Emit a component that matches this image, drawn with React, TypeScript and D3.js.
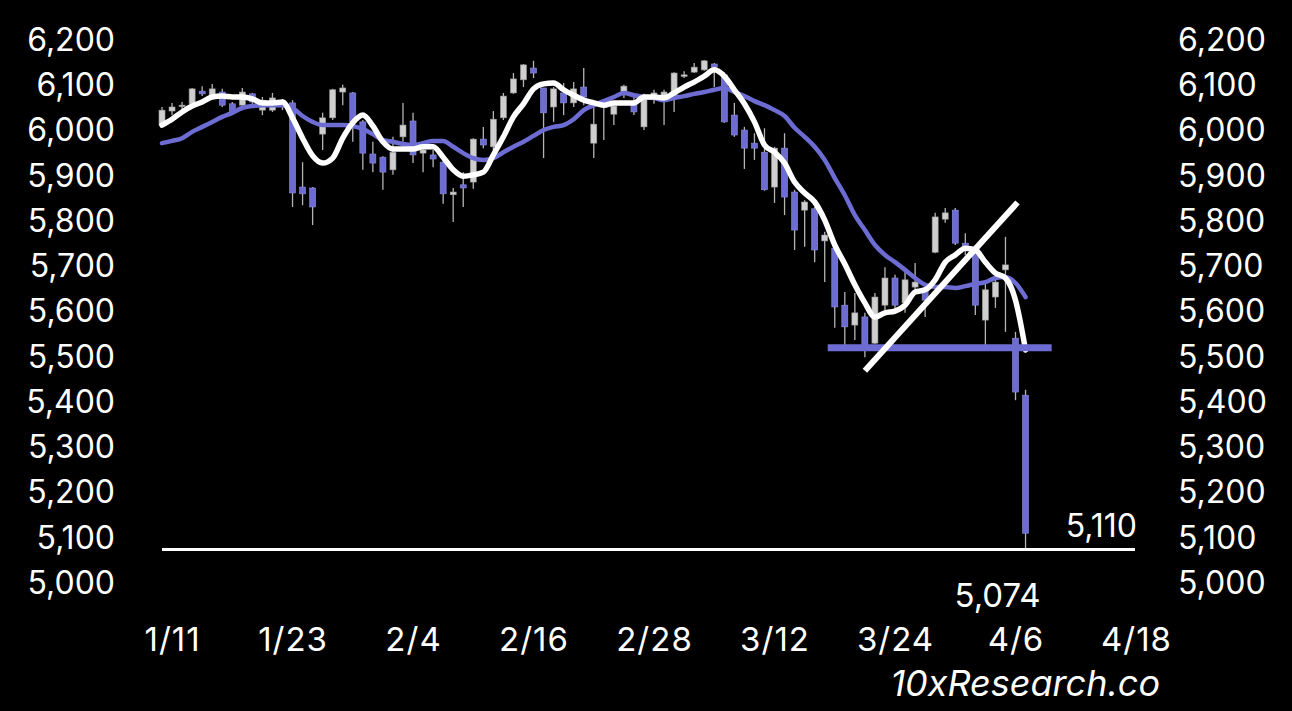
import React, { useEffect, useRef } from 'react';
import * as d3 from 'd3';

// x-axis labels, one every 12 days starting at day 1
const tickLabels = ["1/11", "1/23", "2/4", "2/16", "2/28", "3/12", "3/24", "4/6", "4/18"];
const yTicks = [5000, 5100, 5200, 5300, 5400, 5500, 5600, 5700, 5800, 5900, 6000, 6100, 6200];

// daily candles (day 0 = first candle)
const opens = [
  6012, 6043, 6054, 6059, 6087, 6074, 6085, 6059, 6056, 6081, 6045, 6045, 6065, 6061, 5875, 5873, 5992, 6028, 6085, 6083,
  6019, 5948, 5941, 5913, 5986, 6021, 5950, 5946, 5930, 5858, 5880, 5886, 5981, 5964, 6028, 6083, 6112, 6138, 6094, 6052,
  6083, 6061, 6096, 5972, 6052, 6036, 6085, 6056, 6008, 6072, 6074, 6074, 6121, 6129, 6134, 6147, 6123, 6034, 6001, 5972,
  5952, 5875, 5961, 5864, 5824, 5827, 5756, 5740, 5614, 5570, 5588, 5530, 5614, 5674, 5619, 5654, 5652, 5731, 5804, 5824,
  5751, 5731, 5581, 5632, 5692, 5541, 5415,
];
const highs = [
  6052, 6061, 6063, 6094, 6098, 6103, 6092, 6063, 6094, 6083, 6074, 6083, 6070, 6067, 5930, 5875, 6039, 6092, 6101, 6085,
  6023, 5975, 5943, 5986, 6061, 6039, 5964, 5957, 5935, 5873, 5908, 5983, 6008, 6043, 6083, 6127, 6147, 6154, 6094, 6096,
  6105, 6107, 6138, 6056, 6063, 6059, 6101, 6074, 6081, 6090, 6090, 6129, 6131, 6149, 6156, 6149, 6129, 6061, 6008, 5994,
  6005, 5964, 5994, 5869, 5846, 5831, 5776, 5743, 5643, 5641, 5597, 5641, 5698, 5681, 5692, 5707, 5654, 5818, 5829, 5829,
  5773, 5747, 5665, 5674, 5765, 5555, 5427,
];
const lows = [
  6008, 6034, 6045, 6056, 6076, 6072, 6052, 6034, 6045, 6059, 6034, 6041, 6045, 5831, 5835, 5791, 5957, 6023, 6056, 5975,
  5913, 5908, 5869, 5902, 5975, 5928, 5908, 5919, 5838, 5798, 5831, 5871, 5961, 5957, 6023, 6081, 6096, 6116, 5939, 6019,
  6034, 6052, 6056, 5939, 5979, 6012, 6072, 6034, 6001, 6059, 6012, 6041, 6116, 6127, 6132, 6096, 6017, 5986, 5915, 5935,
  5867, 5840, 5813, 5736, 5743, 5709, 5665, 5564, 5524, 5537, 5499, 5528, 5603, 5597, 5597, 5648, 5588, 5729, 5796, 5747,
  5725, 5592, 5526, 5608, 5555, 5404, 5074,
];
const closes = [
  6045, 6052, 6056, 6092, 6081, 6092, 6056, 6039, 6085, 6063, 6067, 6072, 6054, 5862, 5860, 5831, 6028, 6090, 6094, 6019,
  5950, 5928, 5908, 5952, 6012, 5946, 5957, 5937, 5860, 5864, 5873, 5981, 5968, 6025, 6076, 6114, 6145, 6127, 6039, 6092,
  6061, 6092, 6074, 6014, 6061, 6054, 6098, 6041, 6078, 6083, 6085, 6127, 6123, 6140, 6154, 6140, 6019, 5990, 5961, 5961,
  5869, 5961, 5853, 5780, 5842, 5736, 5769, 5610, 5566, 5597, 5517, 5632, 5674, 5614, 5670, 5665, 5625, 5809, 5818, 5751,
  5740, 5614, 5648, 5665, 5703, 5422, 5110,
];

// moving averages
const maFast = [
  6012, 6025, 6041, 6054, 6063, 6074, 6076, 6074, 6074, 6070, 6061, 6061, 6063, 6028, 5983, 5944, 5928, 5939, 5983, 6017,
  6034, 6010, 5975, 5959, 5959, 5959, 5964, 5964, 5941, 5913, 5899, 5902, 5908, 5946, 5986, 6030, 6059, 6092, 6103, 6105,
  6090, 6078, 6067, 6061, 6056, 6061, 6061, 6061, 6074, 6074, 6072, 6083, 6096, 6107, 6120, 6134, 6120, 6090, 6059, 6019,
  5968, 5952, 5928, 5886, 5862, 5842, 5802, 5747, 5705, 5659, 5619, 5588, 5597, 5601, 5614, 5643, 5648, 5670, 5709, 5725,
  5740, 5736, 5709, 5685, 5674, 5625, 5515,
];
const maSlow = [
  5972, 5977, 5983, 5997, 6008, 6019, 6030, 6039, 6050, 6054, 6056, 6056, 6056, 6050, 6032, 6019, 6012, 6012, 6012, 6010,
  6003, 5992, 5979, 5975, 5970, 5968, 5972, 5977, 5977, 5964, 5950, 5939, 5935, 5939, 5952, 5964, 5975, 5988, 6001, 6008,
  6012, 6025, 6045, 6056, 6065, 6074, 6083, 6078, 6074, 6072, 6067, 6072, 6076, 6081, 6085, 6090, 6094, 6085, 6076, 6065,
  6056, 6045, 6032, 6006, 5986, 5964, 5935, 5895, 5857, 5813, 5780, 5747, 5725, 5709, 5692, 5674, 5659, 5654, 5654, 5652,
  5656, 5661, 5665, 5674, 5676, 5663, 5632,
];

// annotations
const lowLevel = 5074;
const lowLineDays = [0, 96.9];
const lastCloseLabel = 5110;
const supportLevel = 5520;
const supportDays = [66.3, 88.6];
const trendDays = [70, 85.2];
const trendValues = [5469, 5841];

const W = 1292;
const H = 711;
const FONT = "Inter, 'DejaVu Sans', sans-serif";
const PURPLE = "#6c6cd2";

const App: React.FC = () => {
  const svgRef = useRef<SVGSVGElement>(null);

  useEffect(() => {
    if (!svgRef.current) return;
    const svg = d3.select(svgRef.current);
    svg.selectAll("*").remove();

    svg.append("rect").attr("width", W).attr("height", H).attr("fill", "#000");

    const x = d3.scaleLinear().domain([0, 97]).range([162, 1136]);
    const y = d3.scaleLinear().domain([5000, 6200]).range([583, 40]);
    const fmt = d3.format(",");

    // axes
    const left = svg.append("g").attr("transform", "translate(115,0)")
      .call(d3.axisLeft(y).tickValues(yTicks).tickFormat(d => fmt(d as number)).tickSize(0).tickPadding(0));
    const right = svg.append("g").attr("transform", "translate(1178,0)")
      .call(d3.axisRight(y).tickValues(yTicks).tickFormat(d => fmt(d as number)).tickSize(0).tickPadding(0));
    const bottom = svg.append("g").attr("transform", "translate(0,622)")
      .call(d3.axisBottom(x).tickValues(tickLabels.map((_, i) => 1 + i * 12))
        .tickFormat((_, i) => tickLabels[i]).tickSize(0).tickPadding(6));
    [left, right, bottom].forEach(a => {
      a.select(".domain").remove();
      a.selectAll("text").attr("fill", "#fff").style("font-family", FONT).style("font-size", "32px");
    });
    bottom.selectAll("text").style("font-size", "33px").style("letter-spacing", "1px");

    const idx = d3.range(closes.length);

    // candles
    const candles = svg.append("g");
    candles.selectAll("line.wick").data(idx).join("line")
      .attr("class", "wick")
      .attr("x1", i => x(i)).attr("x2", i => x(i))
      .attr("y1", i => y(highs[i])).attr("y2", i => y(lows[i]))
      .attr("stroke", "#b4b4b4").attr("stroke-width", 1.3);
    candles.selectAll("rect.body").data(idx).join("rect")
      .attr("class", "body")
      .attr("x", i => x(i) - 3)
      .attr("width", 6)
      .attr("y", i => y(Math.max(opens[i], closes[i])))
      .attr("height", i => Math.max(1.5, Math.abs(y(opens[i]) - y(closes[i]))))
      .attr("fill", i => (closes[i] >= opens[i] ? "#cfcfcf" : PURPLE))
      .attr("stroke", i => (closes[i] >= opens[i] ? "#9a9a9a" : "#8f8fe0"))
      .attr("stroke-width", 0.6);

    // moving averages
    const line = d3.line<number>().x((_, i) => x(i)).y(d => y(d)).curve(d3.curveMonotoneX);
    svg.append("path").datum(maSlow).attr("d", line).attr("fill", "none")
      .attr("stroke", PURPLE).attr("stroke-width", 4.5).attr("stroke-linecap", "round");
    svg.append("path").datum(maFast).attr("d", line).attr("fill", "none")
      .attr("stroke", "#fff").attr("stroke-width", 5.5).attr("stroke-linecap", "round");

    // support line
    svg.append("line")
      .attr("x1", x(supportDays[0])).attr("x2", x(supportDays[1]))
      .attr("y1", y(supportLevel)).attr("y2", y(supportLevel))
      .attr("stroke", PURPLE).attr("stroke-width", 7);

    // trend line
    svg.append("line")
      .attr("x1", x(trendDays[0])).attr("x2", x(trendDays[1]))
      .attr("y1", y(trendValues[0])).attr("y2", y(trendValues[1]))
      .attr("stroke", "#fff").attr("stroke-width", 6);

    // low line
    svg.append("line")
      .attr("x1", x(lowLineDays[0])).attr("x2", x(lowLineDays[1]))
      .attr("y1", y(lowLevel)).attr("y2", y(lowLevel))
      .attr("stroke", "#fff").attr("stroke-width", 3);

    const last = closes.length - 1;
    svg.append("text")
      .attr("x", x(lowLineDays[1]) + 2).attr("y", y(lastCloseLabel) + 4)
      .attr("text-anchor", "end").attr("fill", "#fff")
      .style("font-family", FONT).style("font-size", "32px")
      .text(fmt(lastCloseLabel));
    svg.append("text")
      .attr("x", x(last) - 28).attr("y", y(lowLevel) + 57)
      .attr("text-anchor", "middle").attr("fill", "#fff")
      .style("font-family", FONT).style("font-size", "33px")
      .text(fmt(lowLevel));

    svg.append("text")
      .attr("x", 1160).attr("y", 696)
      .attr("text-anchor", "end").attr("fill", "#fff")
      .style("font-family", FONT).style("font-size", "36px").style("font-style", "italic")
      .text("10xResearch.co");
  }, []);

  return (
    <svg ref={svgRef} width={W} height={H} viewBox={`0 0 ${W} ${H}`}
      style={{ position: "absolute", top: 0, left: 0, display: "block" }} />
  );
};

export default App;
